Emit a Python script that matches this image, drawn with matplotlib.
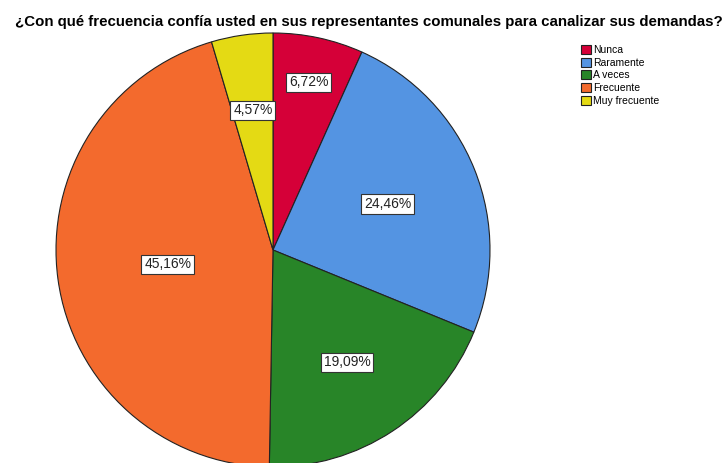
import matplotlib
matplotlib.use("Agg")
import matplotlib.pyplot as plt
from matplotlib.patches import Patch
import numpy as np

plt.rcParams['font.family'] = ['Liberation Sans', 'DejaVu Sans']

categorias = ['Nunca', 'Raramente', 'A veces', 'Frecuente', 'Muy frecuente']
porcentajes = [6.72, 24.46, 19.09, 45.16, 4.57]
colores = ['#D50038', '#5494E2', '#288528', '#F36A2D', '#E4DA14']
# distancia radial de cada etiqueta
dist_etiqueta = [0.79, 0.57, 0.62, 0.49, 0.65]

fig = plt.figure(figsize=(7.28, 4.63), dpi=100)
ax = fig.add_axes([56 / 728, -4 / 463, 434 / 728, 434 / 463])

wedges, _ = ax.pie(porcentajes, colors=colores, startangle=90, counterclock=False,
                   wedgeprops=dict(edgecolor='#222222', linewidth=0.8))
for w in wedges:
    w.set_clip_on(False)
ax.set_xlim(-1, 1)
ax.set_ylim(-1, 1)
ax.set_aspect('auto')
ax.axis('off')

for w, p, d in zip(wedges, porcentajes, dist_etiqueta):
    ang = np.deg2rad((w.theta1 + w.theta2) / 2)
    txt = f"{p:.2f}%".replace('.', ',')
    ax.text(d * np.cos(ang), d * np.sin(ang), txt, ha='center', va='center',
            fontsize=10, color='#222222',
            bbox=dict(boxstyle='square,pad=0.2', facecolor='white',
                      edgecolor='#333333', linewidth=0.8))

fig.text(369 / 728, 1 - 22 / 463,
         '¿Con qué frecuencia confía usted en sus representantes comunales para canalizar sus demandas?',
         ha='center', va='center', fontsize=10.8, fontweight='bold')

handles = [Patch(facecolor=c, edgecolor='#222222', linewidth=0.8) for c in colores]
fig.legend(handles, categorias, loc='upper left', bbox_to_anchor=(581 / 728, 1 - 45 / 463),
           frameon=False, fontsize=7.5, handlelength=0.95, handleheight=0.95,
           handletextpad=0.2, labelspacing=0.25, borderaxespad=0, borderpad=0)

fig.savefig('out.png', dpi=100)
